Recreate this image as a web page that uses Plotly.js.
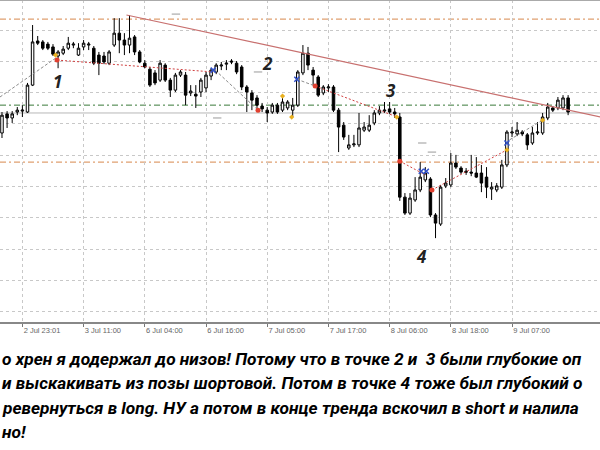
<!DOCTYPE html>
<html><head><meta charset="utf-8">
<script src="https://cdn.plot.ly/plotly-3.0.1.min.js"></script>
<style>html,body{margin:0;padding:0;background:#fff}#chart{width:600px;height:450px}</style>
</head><body><div id="chart"></div>
<script>
// H1 candles, price in chart units (grid step = 10)
const openP = [
67.1,73.2,71.9,73.8,74.1,73.8,82.4,96.5,96.2,95.5,
94.6,91.7,92.6,94.2,95.2,92.0,94.6,95.2,94.2,92.0,
91.7,89.4,95.2,99.0,96.8,95.2,97.8,93.0,89.4,87.5,
86.3,84.0,88.8,84.0,80.8,85.6,85.6,79.9,79.5,80.2,
81.5,85.3,86.6,88.5,89.1,90.1,89.4,88.2,81.8,79.9,
78.3,75.7,74.4,73.8,76.0,74.4,75.1,74.4,76.0,86.3,
92.6,87.2,85.0,79.9,81.5,81.8,74.4,69.6,62.3,63.3,
63.3,68.0,68.0,70.3,73.5,74.1,74.8,73.8,72.2,46.6,
41.5,45.7,48.9,52.1,52.4,40.9,38.0,50.2,50.5,57.5,
55.9,54.9,54.6,54.3,54.3,53.0,49.2,48.9,49.8,56.9,
67.1,66.8,67.4,66.5,63.9,67.1,67.1,71.9,75.1,75.1,75.1,78.3];
const highP = [
73.8,74.1,74.1,75.4,76.0,83.1,101.6,98.1,96.8,96.2,
95.5,93.6,94.9,97.8,96.2,95.8,96.8,96.2,94.9,93.0,
93.0,93.6,103.8,103.8,99.0,104.8,98.4,93.6,90.4,88.2,
87.2,90.4,89.4,84.7,86.3,87.2,86.6,82.4,82.4,84.7,
86.6,87.8,89.4,89.8,90.4,90.7,90.1,88.8,82.4,80.8,
79.2,76.7,75.4,76.7,76.7,78.9,77.6,78.3,87.2,95.2,
94.6,88.2,85.6,82.4,82.7,82.4,75.1,70.6,66.5,66.5,
73.5,70.6,72.8,74.4,75.7,77.0,77.0,75.1,73.5,47.9,
47.9,53.0,57.8,56.2,53.0,41.5,50.5,52.7,60.7,60.1,
56.5,55.9,60.1,59.4,56.9,56.2,51.4,51.1,58.5,68.0,
69.0,70.6,68.0,67.1,69.0,70.6,73.5,76.7,75.7,78.6,79.2,79.2];
const lowP = [
65.5,68.7,70.3,72.8,72.2,73.5,82.1,95.2,93.6,93.6,
91.7,87.8,92.0,93.6,94.2,91.7,93.6,93.6,88.8,85.6,
89.1,88.8,94.6,92.6,92.0,92.6,92.0,89.4,87.8,81.8,
82.4,83.4,83.4,78.6,80.2,85.0,76.0,78.9,75.1,78.6,
80.2,84.0,85.9,87.2,87.2,89.1,85.9,80.8,73.8,74.4,
74.4,73.8,70.6,73.2,73.2,73.8,74.4,72.2,75.4,85.6,
87.2,82.4,78.6,79.2,80.2,73.8,61.0,64.9,61.7,62.6,
62.6,67.4,67.4,69.6,72.8,73.5,73.2,71.9,45.4,40.9,
40.9,45.1,48.2,51.4,40.2,33.5,37.4,49.5,49.8,55.6,
54.0,53.7,53.3,52.7,48.2,46.3,45.7,48.2,49.2,56.2,
65.8,66.1,66.1,61.7,63.3,66.5,66.5,71.2,73.8,74.4,74.4,72.8];
const closeP = [
72.8,71.9,73.2,74.4,74.4,82.4,96.2,95.8,94.2,94.2,
92.3,93.0,93.9,95.8,95.5,94.2,95.8,95.5,89.4,89.4,
89.8,93.0,99.0,96.8,95.2,97.4,93.0,89.8,88.2,82.4,
83.1,89.4,84.0,80.8,85.6,86.6,79.2,80.5,78.9,84.0,
85.6,87.2,88.8,88.8,89.4,89.8,86.6,81.8,80.2,77.6,
76.0,74.8,73.5,76.0,73.8,77.0,77.0,76.0,86.6,92.6,
88.8,85.6,79.2,81.8,81.8,74.4,69.0,65.8,63.3,63.6,
68.7,69.0,69.6,73.5,74.4,74.4,73.8,73.2,46.6,41.5,
46.3,48.9,53.0,54.3,40.9,38.3,49.8,51.1,57.5,56.2,
54.6,54.6,54.3,53.0,51.1,49.8,49.8,50.2,56.9,67.4,
67.4,68.0,66.8,63.3,67.1,67.4,72.2,75.4,74.4,77.6,78.3,73.8];

const tickBars = [4,16,28,40,52,64,76,88,100];
const tickLabels = ["2 Jul 23:01","3 Jul 11:00","6 Jul 04:00","6 Jul 16:00","7 Jul 05:00","7 Jul 17:00","8 Jul 06:00","8 Jul 18:00","9 Jul 07:00"];

// horizontal levels
const orangeLevels = [103.5, 57.8];
const greenLevel = 76.0;
const bidLevel = 73.5;

// trendline anchor points (bar index, price)
const trendBars = [24.4, 117.3];
const trendPrices = [104.8, 72.2];

// trade connection lines
const grayTrades = [
  {x:[-0.4,10.5], y:[78.6,91.0]},
  {x:[41.8,50.2], y:[87.2,74.4]},
  {x:[57.8,61.4], y:[84.3,82.1]},
  {x:[99.5,106.0], y:[64.9,71.2]}
];
const redTrades = [
  {x:[10.8,41.4], y:[90.4,86.6]},
  {x:[61.4,77.5], y:[82.1,72.2]},
  {x:[78.0,83.0], y:[58.1,53.7]},
  {x:[84.3,99.0], y:[48.9,61.7]}
];
const redMarksX = [10.8,50.2,61.4,78.0,84.3];
const redMarksY = [90.4,74.4,82.1,58.1,48.9];
const blueMarksX = [41.4,57.8,82.2,83.2,99.0];
const blueMarksY = [87.2,84.3,54.9,54.9,63.9];
const orangeMarksX = [10.5,55.0,56.8,77.4,99.0,106.0];
const orangeMarksY = [92.0,78.9,72.2,72.2,61.7,71.2];
const pendingX = [34.1,50.2,42.2,82.4,84.3];
const pendingY = [105.1,86.6,71.9,63.9,61.0];

// point labels
const pointLabels = ["1","2","3","4"];
const pointBars = [10.8,52.0,76.3,82.2];
const pointPrices = [83.6,89.4,80.8,27.6];

// caption lines as visible (cut at the picture's edges)
const noteLines = [
  "о хрен я додержал до низов! Потому что в точке 2 и  3 были глубокие оп",
  "и выскакивать из позы шортовой. Потом в точке 4 тоже был глубокий о",
  "ревернуться в long. НУ а потом в конце тренда вскочил в short и налила",
  "но!"
];

const bars = openP.map((_, i) => i);

const traces = [];
grayTrades.forEach(t => traces.push({type:'scatter', mode:'lines', x:t.x, y:t.y,
  line:{color:'#8c8c8c', width:1, dash:'3px,2px'}, hoverinfo:'skip', showlegend:false}));
redTrades.forEach(t => traces.push({type:'scatter', mode:'lines', x:t.x, y:t.y,
  line:{color:'#d04040', width:1, dash:'2px,2px'}, hoverinfo:'skip', showlegend:false}));
traces.push({type:'scatter', mode:'lines', x:trendBars, y:trendPrices,
  line:{color:'#c8706f', width:1.2}, hoverinfo:'skip', showlegend:false});
traces.push({
  type:'candlestick', x:bars, open:openP, high:highP, low:lowP, close:closeP,
  increasing:{line:{color:'#000', width:1}, fillcolor:'#ffffff'},
  decreasing:{line:{color:'#000', width:1}, fillcolor:'#000000'},
  whiskerwidth:0, showlegend:false, hoverinfo:'skip'
});
traces.push({type:'scatter', mode:'markers', x:redMarksX, y:redMarksY,
  marker:{color:'#e04030', size:5}, hoverinfo:'skip', showlegend:false});
traces.push({type:'scatter', mode:'markers', x:blueMarksX, y:blueMarksY,
  marker:{color:'#3050c8', size:5, symbol:'x-thin', line:{color:'#3050c8', width:1.5}}, hoverinfo:'skip', showlegend:false});
traces.push({type:'scatter', mode:'markers', x:orangeMarksX, y:orangeMarksY,
  marker:{color:'#e8b020', size:4, symbol:'diamond'}, hoverinfo:'skip', showlegend:false});
traces.push({type:'scatter', mode:'markers', x:pendingX, y:pendingY,
  marker:{color:'#999', size:6, symbol:'line-ew', line:{color:'#999', width:1}}, hoverinfo:'skip', showlegend:false});

const shapes = [];
orangeLevels.forEach(v => shapes.push({type:'line', xref:'paper', x0:0, x1:1, yref:'y', y0:v, y1:v,
  line:{color:'#e0a070', width:1.2, dash:'6px,3px,2px,3px'}, layer:'below'}));
shapes.push({type:'line', xref:'paper', x0:0, x1:1, yref:'y', y0:greenLevel, y1:greenLevel,
  line:{color:'#3a7a3a', width:1, dash:'6px,3px,2px,3px'}, layer:'below'});
shapes.push({type:'line', xref:'paper', x0:0, x1:1, yref:'y', y0:bidLevel, y1:bidLevel,
  line:{color:'#b8b8b8', width:1}, layer:'below'});
shapes.push({type:'line', xref:'paper', x0:0, x1:1, yref:'paper', y0:1, y1:1,
  line:{color:'#aaaaaa', width:2}});

const annotations = [];
pointLabels.forEach((t, i) => annotations.push({x:pointBars[i], y:pointPrices[i], xref:'x', yref:'y',
  text:t, showarrow:false, font:{family:'Noto Sans, Arial', size:17, color:'#222', weight:'bold', style:'italic'}}));
const lineYs = [-0.115, -0.19, -0.267, -0.343];
noteLines.forEach((t, i) => annotations.push({x:0, y:lineYs[i], xref:'paper', yref:'paper',
  xanchor:'left', yanchor:'middle', text:t, showarrow:false, align:'left',
  font:{family:'Roboto, Noto Sans, sans-serif', size:17.3, color:'#000', weight:'bold', style:'italic'}}));

const layout = {
  width:600, height:450,
  margin:{l:0, r:0, t:0, b:128},
  paper_bgcolor:'#ffffff', plot_bgcolor:'#ffffff',
  showlegend:false,
  xaxis:{range:[-0.39,117.25], rangeslider:{visible:false}, tickmode:'array', tickvals:tickBars, ticktext:tickLabels,
    ticklabelposition:'outside right', ticks:'outside', ticklen:3, tickcolor:'#777',
    tickfont:{family:'Liberation Sans, Arial', size:7.5, color:'#666'},
    showgrid:true, gridcolor:'#c8c8c8', griddash:'dot', gridwidth:1,
    showline:true, linecolor:'#888', linewidth:1.5, zeroline:false, fixedrange:true},
  yaxis:{range:[6.7,109.6], dtick:10, tick0:0, showticklabels:false, ticks:'',
    showgrid:true, gridcolor:'#c8c8c8', griddash:'dot', gridwidth:1, zeroline:false, showline:false, fixedrange:true},
  shapes:shapes, annotations:annotations
};
Plotly.newPlot('chart', traces, layout, {staticPlot:true, displayModeBar:false});
</script></body></html>
